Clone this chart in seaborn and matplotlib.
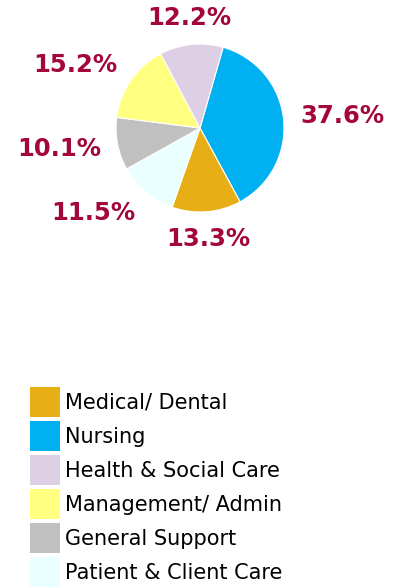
import numpy as np
import seaborn as sns
import matplotlib.pyplot as plt
from matplotlib.patches import Patch

# Data (clockwise order from the top of the pie)
pie_labels = ['Nursing', 'Medical/ Dental', 'Patient & Client Care',
              'General Support', 'Management/ Admin', 'Health & Social Care']
pie_values = [37.6, 13.3, 11.5, 10.1, 15.2, 12.2]
pie_colors = ['#00B0F0', '#E8AE16', '#EAFFFF', '#C0C0C0', '#FFFF80', '#DDD0E4']

# Legend order
legend_order = ['Medical/ Dental', 'Nursing', 'Health & Social Care',
                'Management/ Admin', 'General Support', 'Patient & Client Care']

sns.set_theme(style='white')
plt.rcParams['font.family'] = ['DejaVu Sans']

W, H = 400, 587
fig = plt.figure(figsize=(W / 100, H / 100), dpi=100)

# pie axes: centre (200, 128) px, radius 84 px
cx, cy, r = 200, 128, 84
ax = fig.add_axes([(cx - r) / W, (H - cy - r) / H, 2 * r / W, 2 * r / H])

wedges, _ = ax.pie(pie_values, colors=pie_colors, startangle=74, counterclock=False,
                   radius=1, wedgeprops=dict(edgecolor='white', linewidth=0.8))
ax.set_xlim(-1, 1)
ax.set_ylim(-1, 1)
ax.set_aspect('equal')

# percentage labels placed outside the wedges (box pushed sideways on the flanks)
half_w, half_h = 0.5, 0.12
for w, v in zip(wedges, pie_values):
    ang = np.deg2rad((w.theta1 + w.theta2) / 2)
    dx, dy = np.cos(ang), np.sin(ang)
    side = np.sign(dx) * np.clip((abs(dx) - 0.15) / 0.45, 0, 1)
    x = 1.2 * dx + half_w * side
    y = 1.2 * dy + half_h * dy
    ax.text(x, y, f'{v:.1f}%', ha='center', va='center', fontsize=17.5,
            fontweight='bold', color='#A3053D', clip_on=False)

color_of = dict(zip(pie_labels, pie_colors))
handles = [Patch(facecolor=color_of[l], edgecolor='none', label=l) for l in legend_order]
fig.legend(handles=handles, loc='upper left', bbox_to_anchor=(30 / W, 1 - 387 / H),
           frameon=False, fontsize=15, handlelength=1.44, handleheight=1.84,
           labelspacing=0.19, handletextpad=0.22, borderpad=0, borderaxespad=0,
           labelcolor='black')

fig.savefig('out.png', dpi=100)
